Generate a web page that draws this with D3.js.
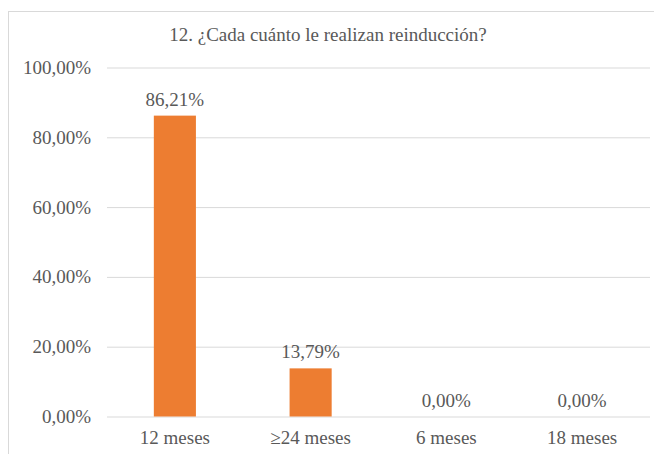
<!DOCTYPE html>
<html>
<head>
<meta charset="utf-8">
<script src="https://cdn.jsdelivr.net/npm/d3@7"></script>
</head>
<body style="margin:0;background:#fff">
<script>
const titleText = "12. ¿Cada cuánto le realizan reinducción?";
const categories = ["12 meses", "≥24 meses", "6 meses", "18 meses"];
const values = [86.21, 13.79, 0, 0];
const yTicks = [0, 20, 40, 60, 80, 100];

const W = 654, H = 454;
const margin = { left: 107, right: 4, top: 67.5, bottom: 37.5 };
const FONT = "'Liberation Serif', Tinos, 'Times New Roman', serif";
const TEXT = "#595959";
const FS = 19;

const fmt = v => v.toFixed(2).replace(".", ",") + "%";

const svg = d3.select("body").append("svg")
  .attr("width", W).attr("height", H)
  .style("display", "block")
  .style("font-family", FONT)
  .style("font-size", FS + "px");

// chart frame
svg.append("rect")
  .attr("x", 8.5).attr("y", 11.5)
  .attr("width", 700).attr("height", 500)
  .attr("fill", "#fff")
  .attr("stroke", "#d9d9d9").attr("stroke-width", 1);

const x = d3.scaleBand()
  .domain(categories)
  .range([margin.left, W - margin.right])
  .paddingInner(0.69).paddingOuter(0.345);

const y = d3.scaleLinear()
  .domain([0, 100])
  .range([H - margin.bottom, margin.top]);

// gridlines and y labels
const yAxis = d3.axisLeft(y).tickValues(yTicks)
  .tickSize(-(W - margin.right - margin.left))
  .tickFormat(fmt).tickPadding(16);

const gy = svg.append("g")
  .attr("transform", `translate(${margin.left},0)`)
  .call(yAxis)
  .attr("font-family", null)
  .attr("font-size", null);
gy.select(".domain").remove();
gy.selectAll(".tick line").attr("stroke", "#d9d9d9").attr("stroke-width", 1);
gy.selectAll(".tick text").attr("fill", TEXT);

// x labels
const xAxis = d3.axisBottom(x).tickSize(0).tickPadding(14);
const gx = svg.append("g")
  .attr("transform", `translate(0,${y(0)})`)
  .call(xAxis)
  .attr("font-family", null)
  .attr("font-size", null);
gx.select(".domain").remove();
gx.selectAll(".tick text").attr("fill", TEXT);

// bars
svg.append("g").selectAll("rect")
  .data(values)
  .join("rect")
  .attr("x", (d, i) => x(categories[i]))
  .attr("width", x.bandwidth())
  .attr("y", d => y(d))
  .attr("height", d => y(0) - y(d))
  .attr("fill", "#ed7d31");

// value labels
svg.append("g").selectAll("text")
  .data(values)
  .join("text")
  .attr("x", (d, i) => x(categories[i]) + x.bandwidth() / 2)
  .attr("y", d => y(d) - 10)
  .attr("text-anchor", "middle")
  .attr("fill", TEXT)
  .text(d => fmt(d));

// title
svg.append("text")
  .attr("x", 328).attr("y", 41)
  .attr("text-anchor", "middle")
  .attr("fill", TEXT)
  .text(titleText);
</script>
</body>
</html>
